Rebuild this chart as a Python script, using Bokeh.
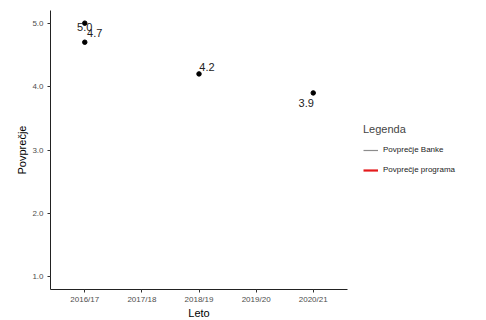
from bokeh.plotting import figure
from bokeh.models import (ColumnDataSource, FactorRange, Range1d, FixedTicker,
                          PrintfTickFormatter, Legend, LegendItem)
from bokeh.core.properties import value
from bokeh.embed import file_html
from bokeh.resources import INLINE

years = ["2016/17", "2017/18", "2018/19", "2019/20", "2020/21"]
point_years = ["2016/17", "2016/17", "2018/19", "2020/21"]
point_values = [5.0, 4.7, 4.2, 3.9]
y_ticks = [1.0, 2.0, 3.0, 4.0, 5.0]
legend_labels = ["Povprečje Banke", "Povprečje programa"]

label_dx = [0, 10, 8, -7]
label_dy = [4, -9, -7, 10]

FONT = "Liberation Sans"

src = ColumnDataSource(dict(
    x=point_years, y=point_values,
    txt=["%.1f" % v for v in point_values],
    dx=label_dx, dy=label_dy,
))

p = figure(frame_width=297, frame_height=279, output_backend="svg", toolbar_location=None,
           x_range=FactorRange(*years, range_padding=0.1, range_padding_units="absolute"),
           y_range=Range1d(0.8, 5.2),
           min_border_left=50, min_border_right=5, min_border_top=10, min_border_bottom=0)
p.outline_line_color = None
p.xgrid.visible = False
p.ygrid.visible = False
p.background_fill_color = "white"
p.border_fill_color = "white"

p.scatter("x", "y", source=src, size=4.5, color="black")
p.text("x", "y", text="txt", source=src, x_offset="dx", y_offset="dy",
       text_align="center", text_baseline="middle", text_font=value(FONT),
       text_font_size="11px", text_color="#222222")

r1 = p.line(x=[years[0]], y=[float("nan")], line_color="#8c8c8c", line_width=1.2)
r2 = p.line(x=[years[0]], y=[float("nan")], line_color="#e41a1c", line_width=2.2)

for ax in (p.xaxis[0], p.yaxis[0]):
    ax.axis_line_color = "#222222"
    ax.axis_line_width = 1
    ax.major_tick_line_color = "#333333"
    ax.major_tick_out = 3
    ax.major_tick_in = 0
    ax.minor_tick_line_color = None
    ax.major_label_text_font = FONT
    ax.major_label_text_font_size = "8px"
    ax.major_label_text_color = "#4d4d4d"
    ax.axis_label_text_font = FONT
    ax.axis_label_text_font_size = "11px"
    ax.axis_label_text_font_style = "normal"
    ax.axis_label_text_color = "black"

p.xaxis.major_label_standoff = 2
p.xaxis.axis_label_standoff = 0
p.yaxis.major_label_standoff = 4
p.yaxis.axis_label_standoff = 1

p.xaxis.axis_label = "Leto"
p.yaxis.axis_label = "Povprečje"
p.yaxis.ticker = FixedTicker(ticks=y_ticks)
p.yaxis.formatter = PrintfTickFormatter(format="%.1f")

legend = Legend(items=[LegendItem(label=legend_labels[0], renderers=[r1]),
                       LegendItem(label=legend_labels[1], renderers=[r2])],
                title="Legenda", location="center_left",
                title_text_font=FONT, title_standoff=8,
                title_text_font_size="11px", title_text_font_style="normal",
                label_text_font=FONT, label_text_font_size="8px",
                label_text_color="#222222",
                glyph_width=15, glyph_height=14, label_standoff=5,
                spacing=6, padding=4, margin=16, border_line_color=None,
                background_fill_alpha=0)
p.add_layout(legend, "right")

open("out.html", "w").write(file_html(p, INLINE))
